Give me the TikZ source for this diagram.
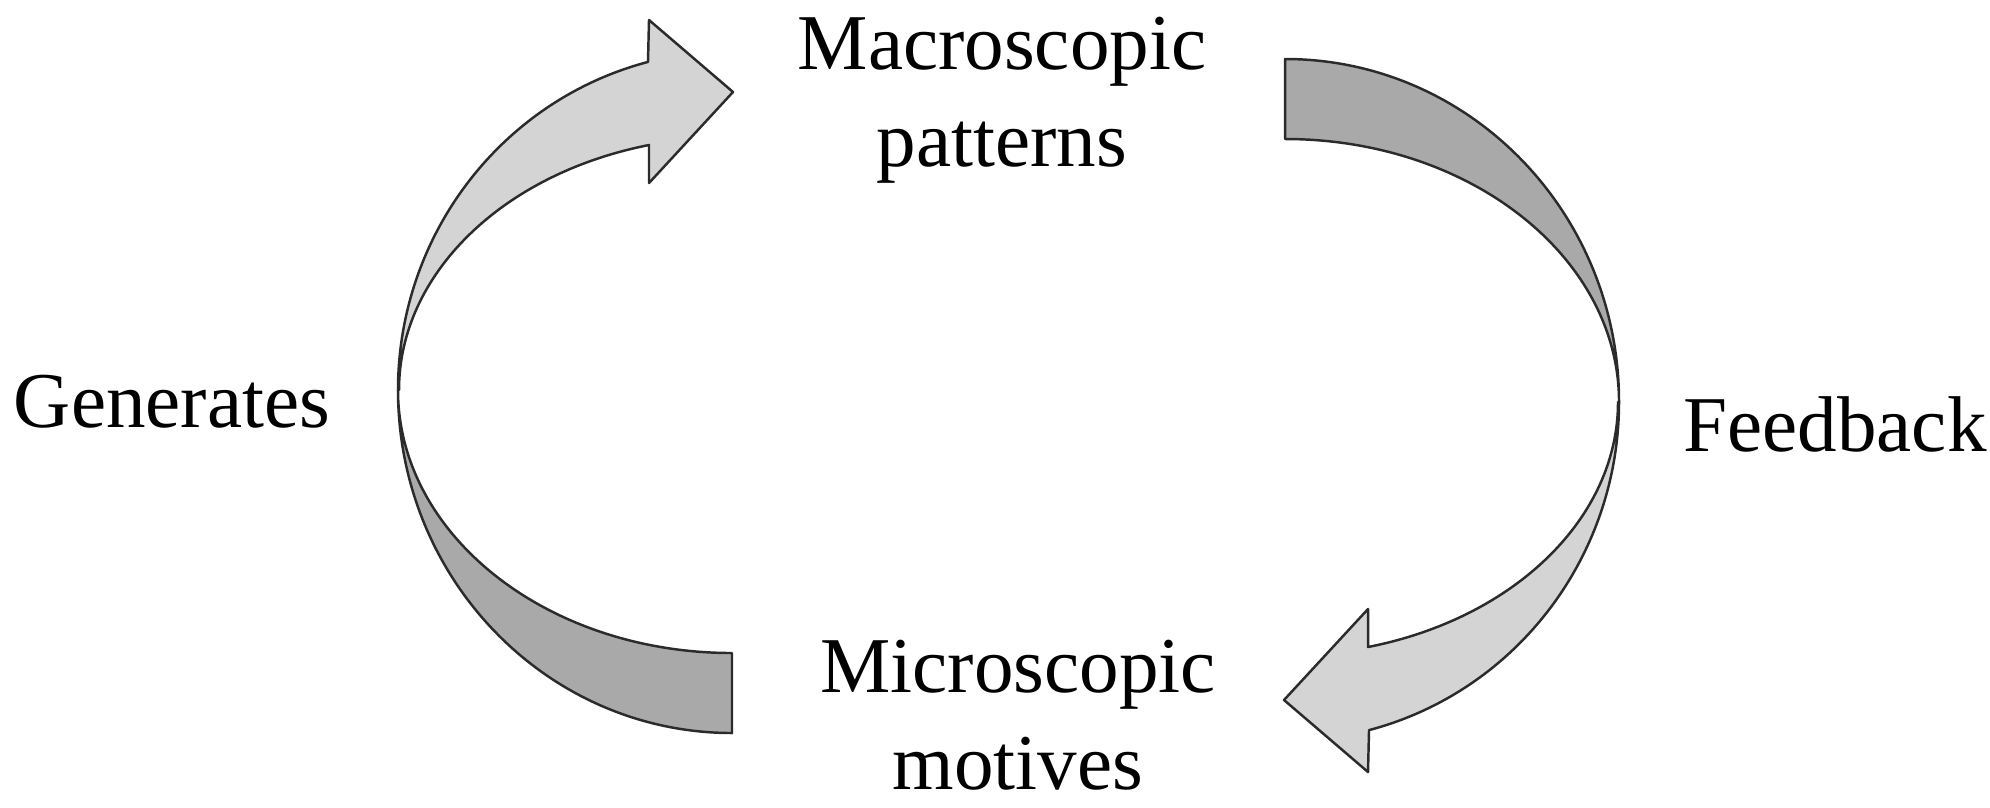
\documentclass[tikz,border=0pt]{standalone}
\usepackage{fontspec}
\setmainfont{Liberation Serif}
\usetikzlibrary{positioning}
\definecolor{loopfront}{HTML}{D4D4D4}
\definecolor{loopback}{HTML}{A9A9A9}
\definecolor{loopink}{HTML}{2B2B2B}
\tikzset{
  band/.style={draw=loopink, line width=0.7pt, line join=round},
  bandfront/.style={band, fill=loopfront},
  bandback/.style={band, fill=loopback},
  lbl/.style={font=\fontsize{22.5}{27.5}\selectfont, align=center, inner sep=0pt},
  halfloop/.pic={
    % back face, lower half
    \path[bandback] (-3.34,0) arc[start angle=180, end angle=270, x radius=3.34cm, y radius=3.43cm]
      -- (0,-2.63) arc[start angle=270, end angle=180, x radius=3.34cm, y radius=2.63cm] -- cycle;
    % front face with the head
    \path[bandfront] (-3.34,0) arc[start angle=180, end angle=104.57, x radius=3.34cm, y radius=3.39cm]
      -- (-0.83,3.70) -- (0.01,2.98) -- (-0.83,2.07) -- (-0.83,2.45)
      arc[start angle=104.57, end angle=180, x radius=3.34cm, y radius=2.53cm] -- cycle;
  },
}

\begin{document}
\begin{tikzpicture}
  \useasboundingbox (0,0) rectangle (19.90,-8.07);
  \pic at (7.32,-3.90) {halfloop};
  \pic[rotate=180] at (12.85,-4.02) {halfloop};
  \node[lbl] (macro) at (10.02,-1.00) {Macroscopic\\patterns};
  \node[lbl] (micro) at (10.18,-7.15) {Microscopic\\motives};
  \node[lbl, anchor=base] (gen) at (1.72,-4.27) {Generates};
  \node[lbl, anchor=base] (fb) at (18.35,-4.51) {Feedback};
\end{tikzpicture}
\end{document}
